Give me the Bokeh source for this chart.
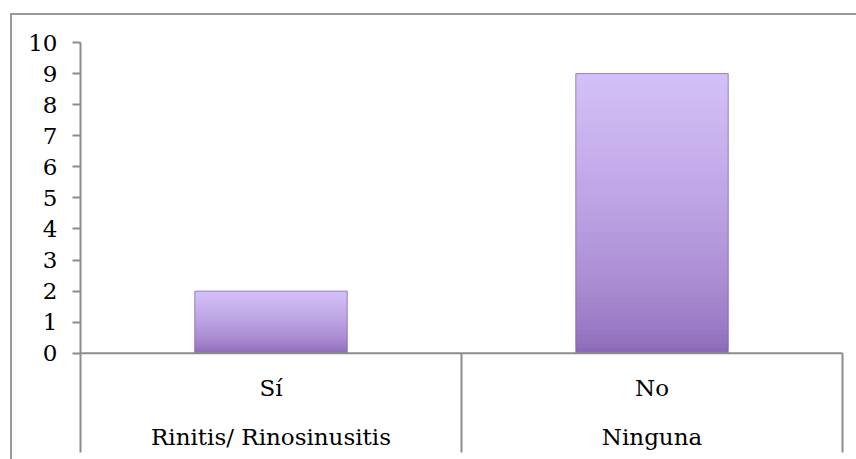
from bokeh.plotting import figure
from bokeh.models import ColumnDataSource, Range1d, FixedTicker
from bokeh.core.properties import value
from bokeh.embed import file_html
from bokeh.resources import INLINE

# ---- data ----
answers = ["Sí", "No"]
conditions = ["Rinitis/ Rinosinusitis", "Ninguna"]
counts = [2, 9]
y_ticks = [0, 1, 2, 3, 4, 5, 6, 7, 8, 9, 10]

FONT = "DejaVu Serif"
GRAY = "#8c8c8c"
n = len(counts)
centers = [i + 0.5 for i in range(n)]
y_min = -3.421
line_bottom = -3.196

p = figure(width=856, height=459, output_backend="svg", toolbar_location=None,
           x_range=Range1d(0, n + 0.0367), y_range=Range1d(y_min, 10.451),
           x_axis_location=None,
           min_border_left=80, min_border_right=0, min_border_top=28, min_border_bottom=0)
p.background_fill_color = None
p.border_fill_color = None
p.outline_line_color = None
p.grid.visible = False
p.styles = {
    "background": ("linear-gradient(#999,#999) 10px 13px / calc(100% - 10px) 2px no-repeat, "
                   "linear-gradient(#999,#999) 10px 13px / 2px calc(100% - 13px) no-repeat")
}

# gradient bars built from the data values
bot_c = (136, 100, 180)
top_c = (212, 192, 248)
K = 60
xs, bots, tops, cols = [], [], [], []
for c, v in zip(centers, counts):
    for j in range(K):
        t = (j + 0.5) / K
        f = t ** 0.6
        rgb = tuple(int(round(a + (b - a) * f)) for a, b in zip(bot_c, top_c))
        xs.append(c)
        bots.append(v * j / K)
        tops.append(min(v, v * (j + 2) / K))
        cols.append("#%02x%02x%02x" % rgb)
src = ColumnDataSource(dict(x=xs, bottom=bots, top=tops, color=cols))
p.vbar(x="x", bottom="bottom", top="top", width=0.4, source=src,
       fill_color="color", line_color=None)
# bevel highlight + outline
p.vbar(x=centers, top=counts, width=0.4, fill_color=None,
       line_color="#7b5fa8", line_alpha=0.7, line_width=1)

# category table lines
p.segment(x0=[0], y0=[0], x1=[n], y1=[0], line_color=GRAY, line_width=2)
p.segment(x0=list(range(1, n + 1)), y0=[0] * n, x1=list(range(1, n + 1)), y1=[line_bottom] * n,
          line_color=GRAY, line_width=2)

# category labels
p.text(x=centers, y=[0] * n, text=answers, y_offset=35,
       text_align="center", text_baseline="middle",
       text_font=value(FONT), text_font_size="23px", text_color="black")
p.text(x=centers, y=[0] * n, text=conditions, y_offset=84,
       text_align="center", text_baseline="middle",
       text_font=value(FONT), text_font_size="23px", text_color="black")

ax = p.yaxis[0]
ax.ticker = FixedTicker(ticks=y_ticks)
ax.bounds = (line_bottom, 10)
ax.major_tick_in = 0
ax.major_tick_out = 8
ax.minor_tick_in = 0
ax.minor_tick_out = 0
ax.axis_line_color = GRAY
ax.axis_line_width = 2
ax.major_tick_line_color = GRAY
ax.major_tick_line_width = 2
ax.major_label_text_font = FONT
ax.major_label_text_font_size = "23px"
ax.major_label_text_color = "black"
ax.major_label_standoff = 15

open("out.html", "w").write(file_html(p, INLINE))
